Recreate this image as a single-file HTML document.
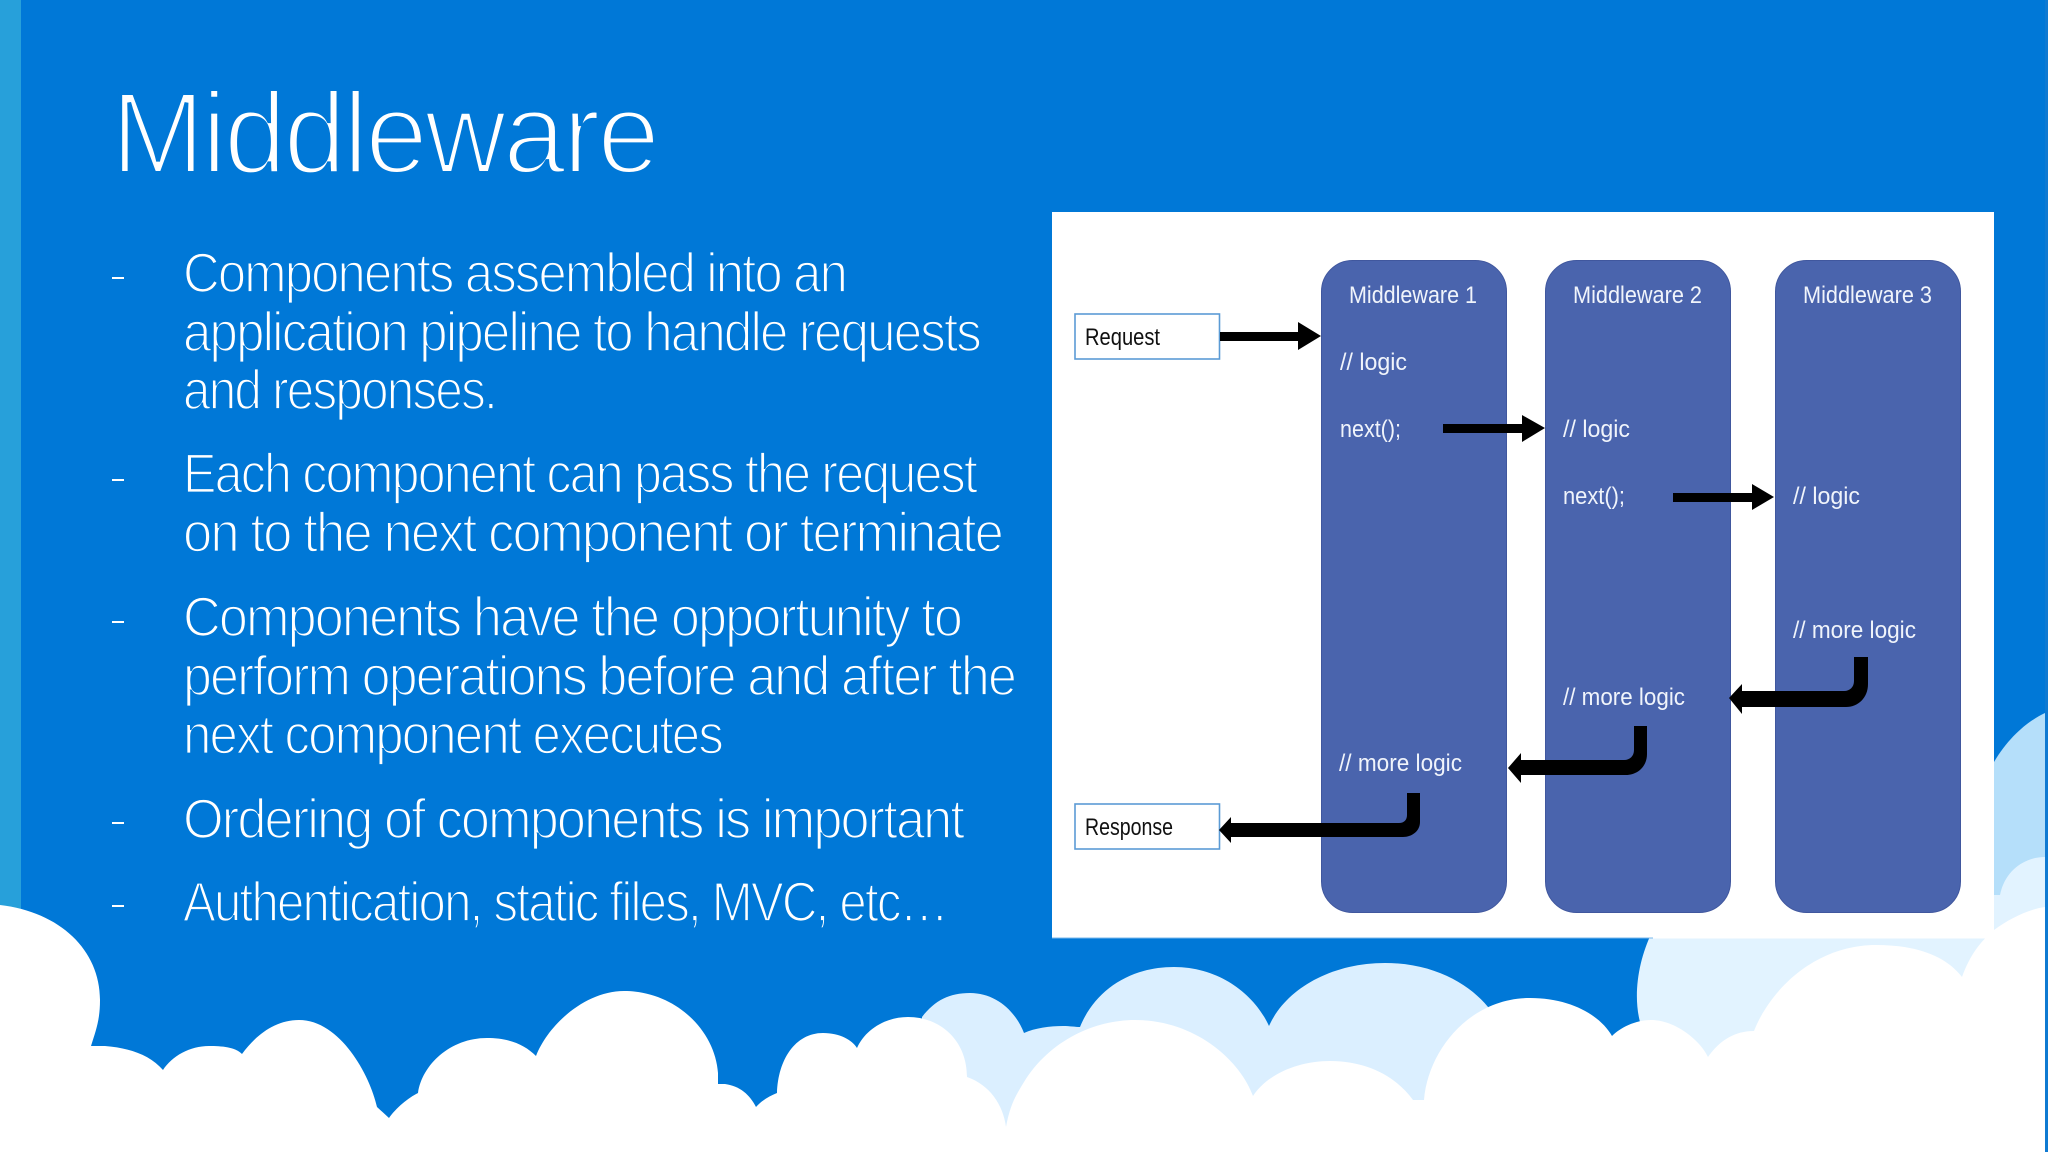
<!DOCTYPE html>
<html lang="en"><head><meta charset="utf-8"><title>Middleware</title>
<style>html,body{margin:0;padding:0;background:#0078d7}svg{display:block}</style></head>
<body>
<svg xmlns="http://www.w3.org/2000/svg" width="2048" height="1152" viewBox="0 0 2048 1152">
<rect width="2048" height="1152" fill="#0078d7"/>
<rect x="0" y="0" width="21" height="920" fill="#27a0da"/>
<path d="M1994,762C2010,735 2030,720 2045,713L2045,900L1994,900Z" fill="#b5dffa"/>
<path d="M1640,1152L1640,1022C1633,995 1638,960 1653,930L1994,930L1994,895L2000,895C2005,870 2025,857 2045,857L2045,1152Z" fill="#e2f3ff"/>
<path d="M922,1152L922,1017C935,1000 950,993 970,993C995,993 1015,1010 1024,1033C1035,1028 1050,1026 1063,1026C1070,1026 1075,1027 1080,1027C1095,990 1130,967 1174,967C1220,967 1255,995 1269,1026C1285,990 1330,963 1385,963C1435,963 1470,985 1488,1007L1488,1152Z" fill="#dbefff"/>
<path d="M0,1152L0,905C60,912 100,950 100,1000C100,1020 96,1030 91,1046L105,1046C130,1048 150,1055 163,1070C172,1056 190,1046 209,1046C222,1046 235,1047 242,1054C256,1035 275,1020 299,1020C340,1020 370,1075 377,1107L389,1118C396,1108 408,1098 418,1093C422,1065 450,1038 487,1038C510,1038 525,1045 536,1056C548,1025 585,991 624,991C675,991 715,1030 718,1073L718,1084L725,1084C740,1086 750,1095 756,1107C762,1100 770,1096 777,1093C778,1060 795,1033 823,1033C840,1033 852,1040 857,1048C865,1030 885,1017 908,1017C940,1017 967,1040 967,1077C990,1085 1003,1105 1006,1127C1010,1105 1016,1095 1024,1082C1050,1040 1095,1020 1135,1020C1195,1020 1240,1060 1253,1096C1268,1073 1300,1061 1330,1061C1365,1061 1395,1075 1413,1100L1424,1100C1428,1050 1470,998 1530,998C1570,998 1600,1015 1612,1036C1620,1028 1635,1020 1651,1020C1675,1020 1700,1040 1708,1057C1720,1040 1735,1031 1754,1031C1770,990 1815,945 1876,945C1915,945 1945,955 1962,977C1970,955 1980,942 1994,930C2010,918 2030,909 2045,907L2045,1152Z" fill="#fff"/>
<rect x="2045" y="0" width="3" height="1152" fill="#0f7ad2"/>

<g font-family="'Liberation Sans',sans-serif" fill="#fff" stroke="#0078d7">
<text x="111" y="173" font-size="116" letter-spacing="-3" textLength="546" lengthAdjust="spacingAndGlyphs" stroke-width="4">Middleware</text>
<g font-size="56" stroke-width="1.8" letter-spacing="-2">
<text x="183" y="292" textLength="663" lengthAdjust="spacingAndGlyphs">Components assembled into an</text>
<text x="183" y="351" textLength="797" lengthAdjust="spacingAndGlyphs">application pipeline to handle requests</text>
<text x="183" y="409" textLength="313" lengthAdjust="spacingAndGlyphs">and responses.</text>
<text x="183" y="492.5" textLength="793" lengthAdjust="spacingAndGlyphs">Each component can pass the request</text>
<text x="183" y="551.5" textLength="819" lengthAdjust="spacingAndGlyphs">on to the next component or terminate</text>
<text x="183" y="636" textLength="778" lengthAdjust="spacingAndGlyphs">Components have the opportunity to</text>
<text x="183" y="695" textLength="832" lengthAdjust="spacingAndGlyphs">perform operations before and after the</text>
<text x="183" y="753.5" textLength="539" lengthAdjust="spacingAndGlyphs">next component executes</text>
<text x="183" y="838" textLength="780" lengthAdjust="spacingAndGlyphs">Ordering of components is important</text>
<text x="183" y="921" textLength="764" lengthAdjust="spacingAndGlyphs">Authentication, static files, MVC, etc…</text>
</g></g>
<g fill="#fff">
<rect x="112" y="277" width="12" height="2"/><rect x="112" y="479" width="12" height="2"/><rect x="112" y="621" width="12" height="2"/><rect x="112" y="822" width="12" height="2"/><rect x="112" y="905" width="12" height="2"/>
</g>

<rect x="1052" y="212" width="942" height="726.5" fill="#fff"/>
<rect x="1052" y="937.5" width="601" height="1" fill="#7ab8ee"/>
<g fill="#4a64ad" stroke="#40579e" stroke-width="1">
<rect x="1321.5" y="260.5" width="185" height="652" rx="31"/>
<rect x="1545.5" y="260.5" width="185" height="652" rx="31"/>
<rect x="1775.5" y="260.5" width="185" height="652" rx="31"/>
</g>
<g fill="#fff" stroke="#5b9bd5" stroke-width="1.6">
<rect x="1075" y="314" width="144.500" height="45"/>
<rect x="1075" y="804" width="144.500" height="45"/>
</g>
<g fill="#000">
<path d="M1220,332L1298,332L1298,322L1321,336L1298,350L1298,341L1220,341Z"/>
<path d="M1443,424L1522,424L1522,415L1545,428L1522,442L1522,433L1443,433Z"/>
<path d="M1673,493L1752,493L1752,484L1774,497L1752,510L1752,502L1673,502Z"/>
<path d="M1854,657L1868,657L1868,684C1868,698 1858,707 1846,707L1742,707L1742,714L1729,698L1742,684L1742,691L1844,691C1850,691 1854,687 1854,681Z"/>
<path d="M1634,726L1647,726L1647,754C1647,767 1637,775 1626,775L1521,775L1521,783L1508,768L1521,753L1521,760L1624,760C1630,760 1634,756 1634,750Z"/>
<path d="M1407,793L1420,793L1420,822C1420,831 1412,837 1403,837L1231,837L1231,843L1219,830L1231,817L1231,823L1399,823C1404,823 1407,820 1407,815Z"/>
</g>
<g font-family="'Liberation Sans',sans-serif" font-size="24" fill="#f0f4fb">
<text x="1349" y="303" textLength="128" lengthAdjust="spacingAndGlyphs">Middleware 1</text>
<text x="1573" y="303" textLength="129" lengthAdjust="spacingAndGlyphs">Middleware 2</text>
<text x="1803" y="303" textLength="129" lengthAdjust="spacingAndGlyphs">Middleware 3</text>
<text x="1340" y="370" textLength="67" lengthAdjust="spacingAndGlyphs">// logic</text>
<text x="1340" y="437" textLength="61" lengthAdjust="spacingAndGlyphs">next();</text>
<text x="1563" y="437" textLength="67" lengthAdjust="spacingAndGlyphs">// logic</text>
<text x="1563" y="504" textLength="62" lengthAdjust="spacingAndGlyphs">next();</text>
<text x="1793" y="504" textLength="67" lengthAdjust="spacingAndGlyphs">// logic</text>
<text x="1793" y="638" textLength="123" lengthAdjust="spacingAndGlyphs">// more logic</text>
<text x="1563" y="705" textLength="122" lengthAdjust="spacingAndGlyphs">// more logic</text>
<text x="1339" y="771" textLength="123" lengthAdjust="spacingAndGlyphs">// more logic</text>
</g>
<g font-family="'Liberation Sans',sans-serif" font-size="24" fill="#111">
<text x="1085" y="345" textLength="75" lengthAdjust="spacingAndGlyphs">Request</text>
<text x="1085" y="835" textLength="88" lengthAdjust="spacingAndGlyphs">Response</text>
</g>
</svg>
</body></html>
